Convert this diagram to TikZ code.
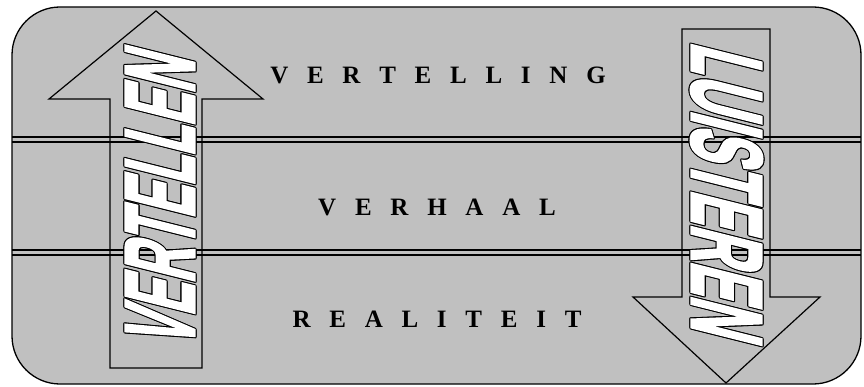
\documentclass[tikz,border=0pt]{standalone}
\usepackage{fontspec}
\setmainfont{Liberation Serif}
\newfontfamily\layerfont[WordSpace=3]{Liberation Serif}
\newfontfamily\artfont[FakeBold=3]{Liberation Sans Bold}
\usepackage{graphicx}
\usepackage{xcolor}
\definecolor{panelgray}{RGB}{192, 192, 192}
\usepackage{tikz}

% outlined word: white letters with a black rim
\newsavebox\artbox
\newsavebox\rimbox
\newcommand{\rimcopy}[2]{\rlap{\hspace*{#1}\raisebox{#2}{\usebox\rimbox}}}
\newcommand{\wordart}[3]{%
  \sbox\rimbox{\color{black}\resizebox{#2}{#3}{\color{black}\artfont #1}}%
  \sbox\artbox{\color{white}\resizebox{#2}{#3}{\color{white}\artfont #1}}%
  \rimcopy{1.1pt}{0pt}\rimcopy{-1.1pt}{0pt}\rimcopy{0pt}{1.1pt}\rimcopy{0pt}{-1.1pt}%
  \rimcopy{.8pt}{.8pt}\rimcopy{.8pt}{-.8pt}\rimcopy{-.8pt}{.8pt}\rimcopy{-.8pt}{-.8pt}%
  \usebox\artbox}

\begin{document}
\begin{tikzpicture}[
  x=1pt, y=-1pt,
  panel/.style={draw=black, fill=panelgray, line width=1.3pt, rounded corners=48pt},
  layerline/.style={draw=black, line width=1.6pt},
  bigarrow/.style={draw=black, line width=1.2pt, line join=miter},
  layer/.style={font=\layerfont\bfseries\fontsize{25}{30}\selectfont, inner sep=0pt},
  wordartnode/.style={inner sep=0pt}
]
\useasboundingbox (0,0) rectangle (864,387);

\draw[panel] (12,7) rectangle (861,384);

% layer borders
\draw[layerline] (12,137) -- (861,137);
\draw[layerline] (12,142) -- (861,142);
\draw[layerline] (12,250) -- (861,250);
\draw[layerline] (12,255) -- (861,255);

% up and down arrows
\draw[bigarrow] (110,368) -- (110,99) -- (49,99) -- (156,11) -- (263,99) -- (202,99) -- (202,368) -- cycle;
\draw[bigarrow] (682,29) -- (682,297) -- (633,297) -- (726,383) -- (820,297) -- (770,297) -- (770,29) -- cycle;

\node[layer] (vertelling) at (438,75.5) {V E R T E L L I N G};
\node[layer] (verhaal) at (437,207) {V E R H A A L};
\node[layer] (realiteit) at (437,319) {R E A L I T E I T};

\node[wordartnode, rotate=90, xslant=0.25] (vertellen) at (160,195.5) {\wordart{VERTELLEN}{290pt}{68pt}};
\node[wordartnode, rotate=-90, xslant=0.25] (luisteren) at (726.5,195) {\wordart{LUISTEREN}{290pt}{70pt}};
\end{tikzpicture}
\end{document}
